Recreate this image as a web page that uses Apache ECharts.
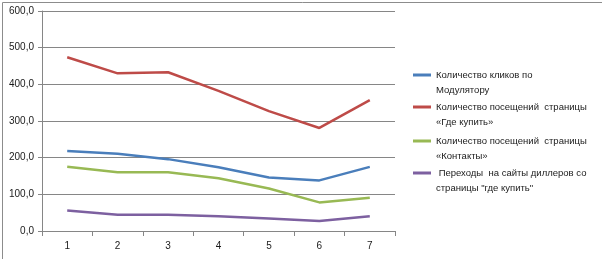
<!DOCTYPE html>
<html><head><meta charset="utf-8">
<script src="https://cdn.jsdelivr.net/npm/echarts@6/dist/echarts.min.js"></script>
<style>html,body{margin:0;padding:0;background:#fff}#c{width:602px;height:259px}</style>
</head><body><div id="c"></div>
<script>
const categories = ['1','2','3','4','5','6','7'];
const seriesNames = [
  'Количество кликов по\nМодулятору',
  'Количество посещений  страницы\n«Где купить»',
  'Количество посещений  страницы\n«Контакты»',
  ' Переходы  на сайты диллеров со\nстраницы "где купить"'
];
const clicks = [218, 211, 196, 174, 146, 138, 175];
const whereBuy = [474, 430, 433, 382, 327, 281, 357];
const contacts = [175, 160, 160, 144, 116, 78, 91];
const dealers = [56, 44, 44, 40, 34, 27, 40];
const colors = ['#4A7EBB', '#BE4B48', '#98B954', '#7D60A0'];
const font = 'Liberation Sans, Arial, sans-serif';
const chart = echarts.init(document.getElementById('c'));
const data = [clicks, whereBuy, contacts, dealers];
const legendCenters = [75, 107, 141, 173];
chart.setOption({
  animation: false,
  color: colors,
  graphic: [{type:'rect', left:0, top:0, shape:{x:0.5,y:0.5,width:600.5,height:257.5}, style:{fill:'none', stroke:'#8c8c8c', lineWidth:1}}],
  grid: {left: 42, right: 207, top: 11, bottom: 28},
  legend: seriesNames.map((n, i) => ({
    orient: 'vertical', left: 413, top: legendCenters[i] - 22.5, padding: 0,
    itemWidth: 18, itemHeight: 3, icon: 'rect',
    formatter: name => '\n' + name,
    textStyle: {fontFamily: font, fontSize: 9.5, color: '#1a1a1a', lineHeight: 15},
    data: [n]
  })),
  xAxis: {
    type: 'category', data: categories, boundaryGap: true,
    axisLine: {lineStyle: {color: '#868686'}},
    axisTick: {show: true, length: 5, lineStyle: {color: '#868686'}},
    axisLabel: {fontFamily: font, fontSize: 10, color: '#1a1a1a', margin: 10}
  },
  yAxis: {
    type: 'value', min: 0, max: 600, interval: 100,
    axisLine: {show: true, lineStyle: {color: '#868686'}},
    axisTick: {show: true, length: 4, lineStyle: {color: '#868686'}},
    splitLine: {lineStyle: {color: '#868686'}},
    axisLabel: {fontFamily: font, fontSize: 10, color: '#1a1a1a', margin: 8, formatter: v => v.toFixed(1).replace('.', ',')}
  },
  series: data.map((d, i) => ({
    name: seriesNames[i], type: 'line', data: d, symbol: 'none',
    lineStyle: {width: 2.5, color: colors[i]}
  }))
});
</script></body></html>
